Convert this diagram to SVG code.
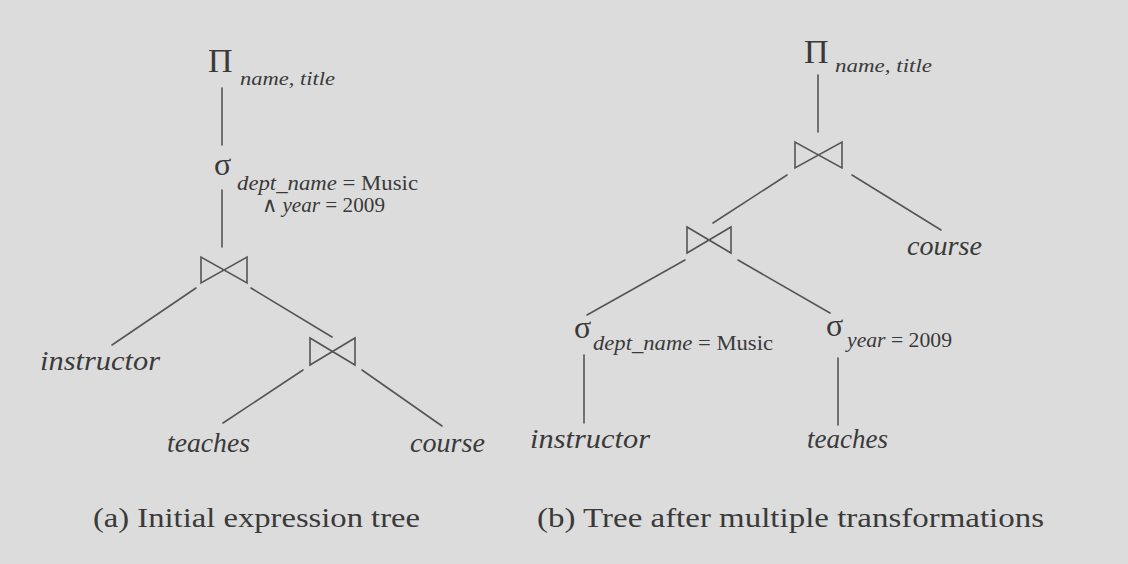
<svg xmlns="http://www.w3.org/2000/svg" width="1128" height="564" viewBox="0 0 1128 564">
<style>
text{font-family:"Liberation Serif","Times New Roman",serif;fill:#3a3a3a}
.big{font-size:34px}
.sig{font-size:32px}
.sub{font-size:19px;font-style:italic}
.cond{font-size:21px}
.it{font-style:italic}
.leaf{font-size:28px;font-style:italic}
.cap{font-size:28px}
.edge{stroke:#555;stroke-width:1.6;fill:none;stroke-linecap:round}
.join{stroke:#555;stroke-width:1.6;fill:none;stroke-linejoin:miter}
</style>
<rect width="1128" height="564" fill="#dcdcdc"/>
<g id="connectors">
<line class="edge" x1="222" y1="88" x2="222" y2="145"/>
<line class="edge" x1="222" y1="190" x2="222" y2="247"/>
<line class="edge" x1="196" y1="288" x2="112" y2="345"/>
<line class="edge" x1="251" y1="288" x2="332" y2="337"/>
<line class="edge" x1="303" y1="370" x2="223" y2="423"/>
<line class="edge" x1="362" y1="370" x2="442" y2="426"/>
<line class="edge" x1="818" y1="75" x2="818" y2="132"/>
<line class="edge" x1="787" y1="175" x2="713" y2="223"/>
<line class="edge" x1="852" y1="175" x2="941" y2="230"/>
<line class="edge" x1="685" y1="260" x2="587" y2="315"/>
<line class="edge" x1="738" y1="260" x2="830" y2="313"/>
<line class="edge" x1="584" y1="355" x2="584" y2="423"/>
<line class="edge" x1="838" y1="358" x2="838" y2="425"/>
</g>
<g id="a-project">
<text class="big" x="208" y="72">Π</text>
<text class="sub" x="240" y="85" textLength="95" lengthAdjust="spacingAndGlyphs">name, title</text>
</g>
<g id="a-select">
<text class="sig" x="214" y="175">σ</text>
<text class="cond" x="237" y="190" textLength="181" lengthAdjust="spacingAndGlyphs"><tspan class="it">dept_name</tspan> = Music</text>
<text class="cond" x="262" y="212" textLength="123" lengthAdjust="spacingAndGlyphs">∧ <tspan class="it">year</tspan> = 2009</text>
</g>
<g id="a-join1"><path class="join" d="M201,257 L201,283 L247,257 L247,283 Z"/></g>
<g id="a-instructor"><text class="leaf" x="40" y="370" textLength="120" lengthAdjust="spacingAndGlyphs">instructor</text></g>
<g id="a-join2"><path class="join" d="M310,338 L310,365 L355,338 L355,365 Z"/></g>
<g id="a-teaches"><text class="leaf" x="167" y="452" textLength="83" lengthAdjust="spacingAndGlyphs">teaches</text></g>
<g id="a-course"><text class="leaf" x="410" y="452" textLength="75" lengthAdjust="spacingAndGlyphs">course</text></g>
<g id="b-project">
<text class="big" x="804" y="63">Π</text>
<text class="sub" x="835" y="72" textLength="97" lengthAdjust="spacingAndGlyphs">name, title</text>
</g>
<g id="b-join1"><path class="join" d="M795,142 L795,168 L842,142 L842,168 Z"/></g>
<g id="b-course"><text class="leaf" x="907" y="255" textLength="75" lengthAdjust="spacingAndGlyphs">course</text></g>
<g id="b-join2"><path class="join" d="M687,227 L687,253 L731,227 L731,253 Z"/></g>
<g id="b-select1">
<text class="sig" x="574" y="338">σ</text>
<text class="cond" x="593" y="350" textLength="180" lengthAdjust="spacingAndGlyphs"><tspan class="it">dept_name</tspan> = Music</text>
</g>
<g id="b-select2">
<text class="sig" x="826" y="336">σ</text>
<text class="cond" x="847" y="347" textLength="105" lengthAdjust="spacingAndGlyphs"><tspan class="it">year</tspan> = 2009</text>
</g>
<g id="b-instructor"><text class="leaf" x="530" y="448" textLength="120" lengthAdjust="spacingAndGlyphs">instructor</text></g>
<g id="b-teaches"><text class="leaf" x="807" y="448" textLength="81" lengthAdjust="spacingAndGlyphs">teaches</text></g>
<g id="captions">
<text class="cap" x="93" y="527" textLength="327" lengthAdjust="spacingAndGlyphs">(a) Initial expression tree</text>
<text class="cap" x="537" y="527" textLength="507" lengthAdjust="spacingAndGlyphs">(b) Tree after multiple transformations</text>
</g>
</svg>
